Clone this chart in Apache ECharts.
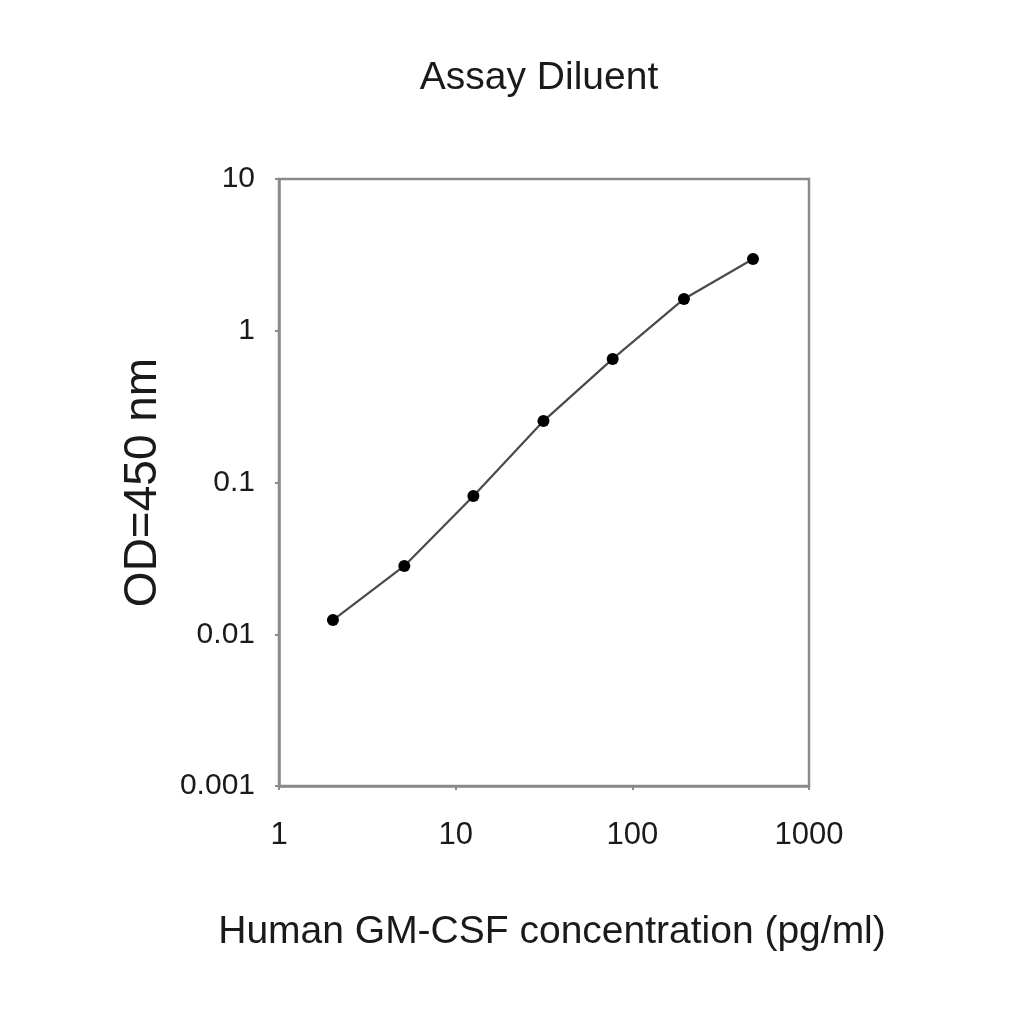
<!DOCTYPE html>
<html>
<head>
<meta charset="utf-8">
<script src="https://cdn.jsdelivr.net/npm/echarts@6/dist/echarts.min.js"></script>
<style>
html,body{margin:0;padding:0;background:#fff;}
#chart{width:1024px;height:1024px;}
</style>
</head>
<body>
<div id="chart"></div>
<script>
const titleText = 'Assay Diluent';
const xAxisName = 'Human GM-CSF concentration (pg/ml)';
const yAxisName = 'OD=450 nm';
const concentration = [2.02, 5.12, 12.6, 31.4, 77.4, 196, 482];
const od450 = [0.0124, 0.0282, 0.0815, 0.254, 0.652, 1.62, 2.97];
const xTickValues = [1, 10, 100, 1000];
const xTickLabels = ['1', '10', '100', '1000'];
const yTickValues = [0.001, 0.01, 0.1, 1, 10];
const yTickLabels = ['0.001', '0.01', '0.1', '1', '10'];

function labelFor(values, labels) {
  return function (v) {
    const lv = Math.log10(v);
    for (let i = 0; i < values.length; i++) {
      if (Math.abs(Math.log10(values[i]) - lv) < 1e-6) return labels[i];
    }
    return '';
  };
}

const font = 'Liberation Sans, Arial, sans-serif';
const axisGrey = '#8a8a8a';
const chart = echarts.init(document.getElementById('chart'), null, {renderer: 'canvas'});
chart.setOption({
  animation: false,
  backgroundColor: '#ffffff',
  title: {
    text: titleText,
    left: 534,
    textAlign: 'center',
    top: 54,
    textStyle: {fontFamily: font, fontSize: 39, fontWeight: 'normal', color: '#1a1a1a'}
  },
  grid: {
    left: 279, right: 215, top: 179, bottom: 238,
    show: true, borderColor: axisGrey, borderWidth: 2.5, backgroundColor: '#fff'
  },
  xAxis: {
    type: 'log', logBase: 10,
    min: xTickValues[0], max: xTickValues[xTickValues.length - 1],
    name: xAxisName, nameLocation: 'middle', nameGap: 127,
    nameTextStyle: {fontFamily: font, fontSize: 39, color: '#1a1a1a', padding: [0, 0, 0, 16]},
    axisLine: {lineStyle: {color: axisGrey, width: 2.5}},
    axisTick: {show: true, length: 4, lineStyle: {color: axisGrey, width: 2}},
    minorTick: {show: false},
    splitLine: {show: false},
    axisLabel: {fontFamily: font, fontSize: 31, color: '#1a1a1a', margin: 34,
      formatter: labelFor(xTickValues, xTickLabels)}
  },
  yAxis: {
    type: 'log', logBase: 10,
    min: yTickValues[0], max: yTickValues[yTickValues.length - 1],
    name: yAxisName, nameLocation: 'middle', nameGap: 113,
    nameTextStyle: {fontFamily: font, fontSize: 46, color: '#1a1a1a'},
    axisLine: {lineStyle: {color: axisGrey, width: 2.5}},
    axisTick: {show: true, length: 4, lineStyle: {color: axisGrey, width: 2}},
    splitLine: {show: false},
    axisLabel: {fontFamily: font, fontSize: 30, color: '#1a1a1a', margin: 24,
      formatter: labelFor(yTickValues, yTickLabels)}
  },
  series: [{
    type: 'line',
    data: concentration.map((x, i) => [x, od450[i]]),
    symbol: 'circle', symbolSize: 12,
    itemStyle: {color: '#000'},
    lineStyle: {color: '#4a4a4a', width: 2.2},
    z: 3
  }]
});
</script>
</body>
</html>
